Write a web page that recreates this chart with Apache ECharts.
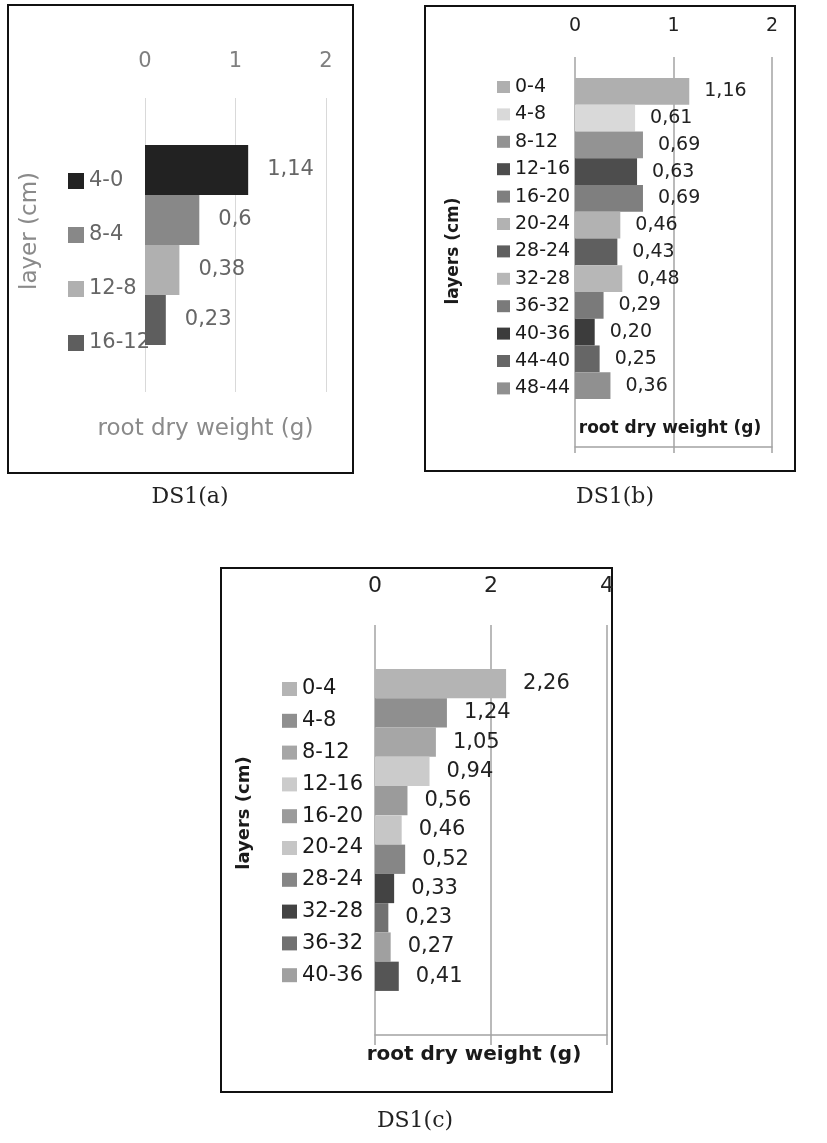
<!DOCTYPE html>
<html>
<head>
<meta charset="utf-8">
<script src="https://cdn.jsdelivr.net/npm/echarts@6/dist/echarts.min.js"></script>
<style>
html,body{margin:0;padding:0;background:#fff;}
#chart{width:827px;height:1143px;}
</style>
</head>
<body>
<div id="chart"></div>
<script>
// ---- data ----
const catsA = ['4-0', '8-4', '12-8', '16-12'];
const valsA = [1.14, 0.6, 0.38, 0.23];
const ticksA = [0, 1, 2];

const catsB = ['0-4', '4-8', '8-12', '12-16', '16-20', '20-24', '28-24', '32-28', '36-32', '40-36', '44-40', '48-44'];
const valsB = [1.16, 0.61, 0.69, 0.63, 0.69, 0.46, 0.43, 0.48, 0.29, 0.20, 0.25, 0.36];
const ticksB = [0, 1, 2];

const catsC = ['0-4', '4-8', '8-12', '12-16', '16-20', '20-24', '28-24', '32-28', '36-32', '40-36', '44-40'];
const valsC = [2.26, 1.24, 1.05, 0.94, 0.56, 0.46, 0.52, 0.33, 0.23, 0.27, 0.41];
const legendCountC = 10; // only ten legend entries visible in the original
const ticksC = [0, 2, 4];

const captions = ['DS1(a)', 'DS1(b)', 'DS1(c)'];

// ---- styles ----
const colorsA = ['#222222', '#888888', '#b0b0b0', '#5e5e5e'];
const colorsB = ['#afafaf', '#d9d9d9', '#939393', '#4d4d4d', '#7f7f7f', '#b2b2b2', '#5f5f5f', '#b7b7b7', '#7a7a7a', '#3c3c3c', '#666666', '#909090'];
const colorsC = ['#b4b4b4', '#8f8f8f', '#a6a6a6', '#cbcbcb', '#9b9b9b', '#c6c6c6', '#868686', '#434343', '#717171', '#a0a0a0', '#555555'];
const FF = 'DejaVu Sans';

function fmtA(p) { return String(p.value).replace('.', ','); }
function fmt2(p) { return p.value.toFixed(2).replace('.', ','); }

function makeSeries(prefix, cats, vals, colors, xi, yi, gap, labelOpt) {
  return cats.map((c, i) => ({
    type: 'bar',
    name: prefix + c,
    xAxisIndex: xi,
    yAxisIndex: yi,
    data: [vals[i]],
    barGap: '0%',
    barCategoryGap: gap,
    itemStyle: { color: colors[i] },
    label: labelOpt,
    z: 2
  }));
}

const gridLineB = '#a3a3a3';
const ax = (ticks) => ({ min: ticks[0], max: ticks[ticks.length - 1], interval: ticks[1] - ticks[0] });

const option = {
  animation: false,
  backgroundColor: '#fff',
  grid: [
    { left: 145, top: 98, width: 181, height: 294 },
    { left: 575, top: 57, width: 197, height: 363 },
    { left: 575, top: 420, width: 197, height: 27 },
    { left: 375, top: 625, width: 232, height: 410 }
  ],
  xAxis: [
    Object.assign({ gridIndex: 0, type: 'value', position: 'top',
      axisLine: { show: false }, axisTick: { show: false },
      axisLabel: { margin: 26, color: '#7f7f7f', fontSize: 21, fontFamily: FF },
      splitLine: { show: true, lineStyle: { color: '#d9d9d9', width: 1 } } }, ax(ticksA)),
    Object.assign({ gridIndex: 0, type: 'value', position: 'bottom',
      axisLine: { show: false }, axisTick: { show: false }, axisLabel: { show: false }, splitLine: { show: false },
      name: 'root dry weight (g)', nameLocation: 'middle', nameGap: 26,
      nameTextStyle: { color: '#8a8a8a', fontSize: 23, fontFamily: FF, padding: [0, 60, 0, 0] } }, ax(ticksA)),
    Object.assign({ gridIndex: 1, type: 'value', position: 'top',
      axisLine: { show: false }, axisTick: { show: false },
      axisLabel: { margin: 21, color: '#222', fontSize: 19, fontFamily: FF },
      splitLine: { show: true, lineStyle: { color: gridLineB, width: 1.5 } } }, ax(ticksB)),
    Object.assign({ gridIndex: 2, type: 'value', position: 'bottom',
      axisLine: { show: true, lineStyle: { color: gridLineB, width: 1.5 } },
      axisTick: { show: true, length: 6, lineStyle: { color: gridLineB, width: 1.5 } },
      axisLabel: { show: false },
      splitLine: { show: true, lineStyle: { color: gridLineB, width: 1.5 } },
      name: 'root dry weight (g)', nameLocation: 'middle', nameGap: -27,
      nameTextStyle: { color: '#1a1a1a', fontSize: 17, fontWeight: 'bold', fontFamily: FF, padding: [0, 7, 0, 0] } }, ax(ticksB)),
    Object.assign({ gridIndex: 3, type: 'value', position: 'top',
      axisLine: { show: false }, axisTick: { show: false },
      axisLabel: { margin: 28, color: '#222', fontSize: 22, fontFamily: FF },
      splitLine: { show: true, lineStyle: { color: gridLineB, width: 1.5 } } }, ax(ticksC)),
    Object.assign({ gridIndex: 3, type: 'value', position: 'bottom',
      axisLine: { show: true, lineStyle: { color: gridLineB, width: 1.5 } },
      axisTick: { show: true, length: 10, lineStyle: { color: gridLineB, width: 1.5 } },
      axisLabel: { show: false }, splitLine: { show: false },
      name: 'root dry weight (g)', nameLocation: 'middle', nameGap: 10,
      nameTextStyle: { color: '#1a1a1a', fontSize: 20, fontWeight: 'bold', fontFamily: FF, padding: [0, 34, 0, 0] } }, ax(ticksC))
  ],
  yAxis: [
    { gridIndex: 0, type: 'category', data: [''], inverse: true,
      axisLine: { show: false }, axisTick: { show: false }, axisLabel: { show: false },
      name: 'layer (cm)', nameLocation: 'middle', nameRotate: 90, nameGap: 103,
      nameTextStyle: { color: '#8a8a8a', fontSize: 23, fontFamily: FF, padding: [0, 0, 0, 28] } },
    { gridIndex: 1, type: 'category', data: [''], inverse: true,
      axisLine: { show: false }, axisTick: { show: false }, axisLabel: { show: false },
      name: 'layers (cm)', nameLocation: 'middle', nameRotate: 90, nameGap: 113,
      nameTextStyle: { color: '#1a1a1a', fontSize: 17, fontWeight: 'bold', fontFamily: FF, padding: [0, 25, 0, 0] } },
    { gridIndex: 2, type: 'category', data: [''],
      axisLine: { show: false }, axisTick: { show: false }, axisLabel: { show: false } },
    { gridIndex: 3, type: 'category', data: [''], inverse: true,
      axisLine: { show: false }, axisTick: { show: false }, axisLabel: { show: false },
      name: 'layers (cm)', nameLocation: 'middle', nameRotate: 90, nameGap: 122,
      nameTextStyle: { color: '#1a1a1a', fontSize: 18, fontWeight: 'bold', fontFamily: FF, padding: [0, 0, 0, 34] } }
  ],
  legend: [
    { data: catsA.map(c => 'a:' + c), orient: 'vertical', left: 63, top: 164, icon: 'rect',
      itemWidth: 16, itemHeight: 16, itemGap: 30, selectedMode: false, z: 1,
      formatter: n => n.slice(2),
      textStyle: { color: '#666', fontSize: 21, lineHeight: 24, fontFamily: FF } },
    { data: catsB.map(c => 'b:' + c), orient: 'vertical', left: 492, top: 72, icon: 'rect',
      itemWidth: 13, itemHeight: 12, itemGap: 7.4, itemTextGap: 4, selectedMode: false, z: 1,
      formatter: n => n.slice(2),
      textStyle: { color: '#1a1a1a', fontSize: 19, lineHeight: 20, fontFamily: FF } },
    { data: catsC.slice(0, legendCountC).map(c => 'c:' + c), orient: 'vertical', left: 277, top: 673, icon: 'rect',
      itemWidth: 15, itemHeight: 14, itemGap: 9.8, itemTextGap: 5, selectedMode: false, z: 1,
      formatter: n => n.slice(2),
      textStyle: { color: '#1a1a1a', fontSize: 21, lineHeight: 22, fontFamily: FF } }
  ],
  series: [].concat(
    makeSeries('a:', catsA, valsA, colorsA, 0, 0, '32%',
      { show: true, position: 'right', distance: 19, formatter: fmtA, color: '#666', fontSize: 21, fontFamily: FF }),
    makeSeries('b:', catsB, valsB, colorsB, 2, 1, '11.6%',
      { show: true, position: 'right', distance: 15, formatter: fmt2, color: '#222', fontSize: 19, fontFamily: FF }),
    makeSeries('c:', catsC, valsC, colorsC, 4, 3, '21.5%',
      { show: true, position: 'right', distance: 17, formatter: fmt2, color: '#222', fontSize: 21, fontFamily: FF })
  ),
  graphic: [
    { type: 'rect', shape: { x: 8, y: 5, width: 345, height: 468 }, style: { fill: 'none', stroke: '#111', lineWidth: 2 }, z: 0 },
    { type: 'rect', shape: { x: 425, y: 6, width: 370, height: 465 }, style: { fill: 'none', stroke: '#111', lineWidth: 2 }, z: 0 },
    { type: 'rect', shape: { x: 221, y: 568, width: 391, height: 524 }, style: { fill: 'none', stroke: '#111', lineWidth: 2 }, z: 0 },
    { type: 'text', x: 190, y: 497, style: { text: captions[0], fill: '#222', font: '22px "DejaVu Serif"', textAlign: 'center', textVerticalAlign: 'middle' } },
    { type: 'text', x: 615, y: 497, style: { text: captions[1], fill: '#222', font: '22px "DejaVu Serif"', textAlign: 'center', textVerticalAlign: 'middle' } },
    { type: 'text', x: 415, y: 1121, style: { text: captions[2], fill: '#222', font: '22px "DejaVu Serif"', textAlign: 'center', textVerticalAlign: 'middle' } }
  ]
};

const chart = echarts.init(document.getElementById('chart'), null, { renderer: 'canvas' });
chart.setOption(option);
</script>
</body>
</html>
